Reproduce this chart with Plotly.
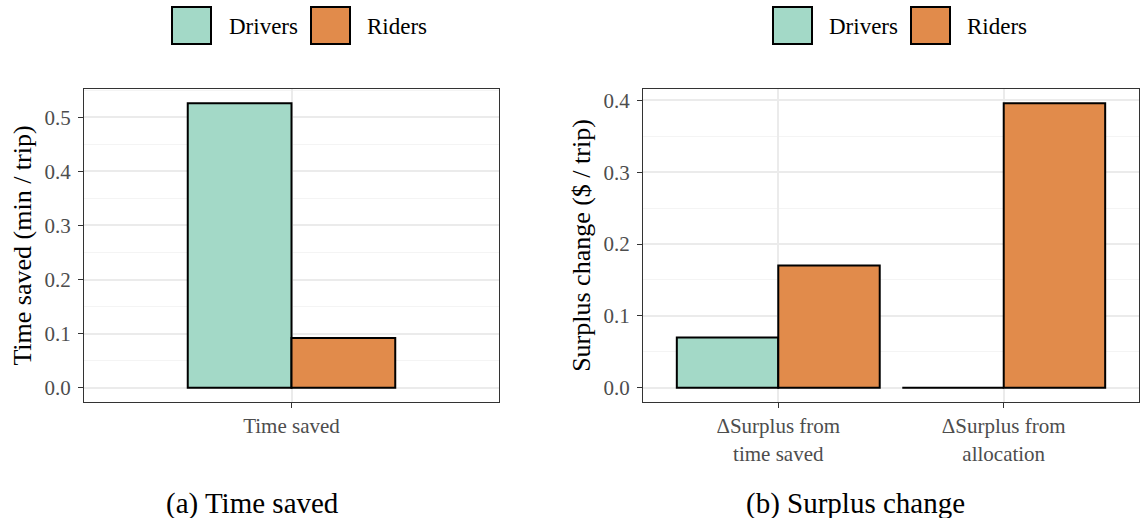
import plotly.graph_objects as go

# ---- data ----
time_categories = ["Time saved"]
time_drivers = [0.526]
time_riders = [0.092]

surplus_categories = ["ΔSurplus from<br>time saved", "ΔSurplus from<br>allocation"]
surplus_drivers = [0.070, 0.0]
surplus_riders = [0.170, 0.396]

series_names = ["Drivers", "Riders"]

# ---- style ----
W, H = 1143, 518
FONT = "Liberation Serif"
COL_DRIVERS = "rgb(163,217,199)"
COL_RIDERS = "rgb(225,139,75)"
EDGE = "black"
GRID_MAJOR = "#ebebeb"
GRID_MINOR = "#f4f4f4"
TICK_GRAY = "#4d4d4d"


def px_x(v):
    return v / W


def px_y(v):
    return 1 - v / H


fig = go.Figure()

# panel (a): two dodged bars, 0.3 wide each
fig.add_trace(go.Bar(x=time_categories, y=time_drivers, name=series_names[0],
                     marker=dict(color=COL_DRIVERS, line=dict(color=EDGE, width=2)),
                     width=0.3, offset=-0.3, xaxis="x", yaxis="y", showlegend=False))
fig.add_trace(go.Bar(x=time_categories, y=time_riders, name=series_names[1],
                     marker=dict(color=COL_RIDERS, line=dict(color=EDGE, width=2)),
                     width=0.3, offset=0.0, xaxis="x", yaxis="y", showlegend=False))

# panel (b): two dodged bars per category, 0.45 wide each
fig.add_trace(go.Bar(x=surplus_categories, y=surplus_drivers, name=series_names[0],
                     marker=dict(color=COL_DRIVERS, line=dict(color=EDGE, width=2)),
                     width=0.45, offset=-0.45, xaxis="x2", yaxis="y2", showlegend=False))
fig.add_trace(go.Bar(x=surplus_categories, y=surplus_riders, name=series_names[1],
                     marker=dict(color=COL_RIDERS, line=dict(color=EDGE, width=2)),
                     width=0.45, offset=0.0, xaxis="x2", yaxis="y2", showlegend=False))

y_dom = [px_y(402), px_y(89)]

common_y = dict(
    showline=True, mirror=True, linecolor="#333333", linewidth=1,
    ticks="outside", ticklen=5, tickcolor="#333333", tickwidth=1,
    showgrid=True, gridcolor=GRID_MAJOR, gridwidth=1.5,
    minor=dict(dtick=0.05, showgrid=True, gridcolor=GRID_MINOR, gridwidth=1),
    tickformat=".1f", dtick=0.1, tick0=0,
    tickfont=dict(family=FONT, size=21, color=TICK_GRAY),
    zeroline=False, ticklabelstandoff=3,
)
common_x = dict(
    type="category",
    showline=True, mirror=True, linecolor="#333333", linewidth=1,
    ticks="outside", ticklen=5, tickcolor="#333333", tickwidth=1,
    showgrid=True, gridcolor=GRID_MAJOR, gridwidth=1.5,
    tickfont=dict(family=FONT, size=21, color=TICK_GRAY),
    zeroline=False,
)

fig.update_layout(
    width=W, height=H,
    margin=dict(l=0, r=0, t=0, b=0),
    paper_bgcolor="white", plot_bgcolor="white",
    barmode="overlay",
    showlegend=False,
    font=dict(family=FONT, color="black"),
    xaxis=dict(domain=[px_x(84), px_x(499)], range=[-0.6, 0.6], anchor="y", **common_x),
    yaxis=dict(domain=y_dom, range=[-0.0263, 0.5523], anchor="x",
               title=dict(text="Time saved (min / trip)", font=dict(family=FONT, size=26, color="black"),
                          standoff=5),
               **common_y),
    xaxis2=dict(domain=[px_x(643), px_x(1139)], range=[-0.6, 1.6], anchor="y2", **common_x),
    yaxis2=dict(domain=y_dom, range=[-0.0198, 0.4158], anchor="x2",
                title=dict(text="Surplus change ($ / trip)", font=dict(family=FONT, size=26, color="black"),
                           standoff=5),
                **common_y),
)

# legend keys drawn above each panel
legend_specs = [
    (172, 227, COL_DRIVERS, series_names[0]),
    (311, 365, COL_RIDERS, series_names[1]),
    (773, 827, COL_DRIVERS, series_names[0]),
    (911, 965, COL_RIDERS, series_names[1]),
]
for box_x, text_x, col, label in legend_specs:
    fig.add_shape(type="rect", xref="paper", yref="paper",
                  x0=px_x(box_x), x1=px_x(box_x + 39), y0=px_y(44), y1=px_y(7),
                  fillcolor=col, line=dict(color=EDGE, width=2))
    fig.add_annotation(x=px_x(text_x), y=px_y(26), xref="paper", yref="paper",
                       text=label, showarrow=False, xanchor="left", yanchor="middle",
                       font=dict(family=FONT, size=23, color="black"))

# sub-figure captions
for cx, txt in [(252, "(a) Time saved"), (855, "(b) Surplus change")]:
    fig.add_annotation(x=px_x(cx), y=px_y(503), xref="paper", yref="paper",
                       text=txt, showarrow=False, xanchor="center", yanchor="middle",
                       font=dict(family=FONT, size=29, color="black"))

fig.write_html("out.html")
